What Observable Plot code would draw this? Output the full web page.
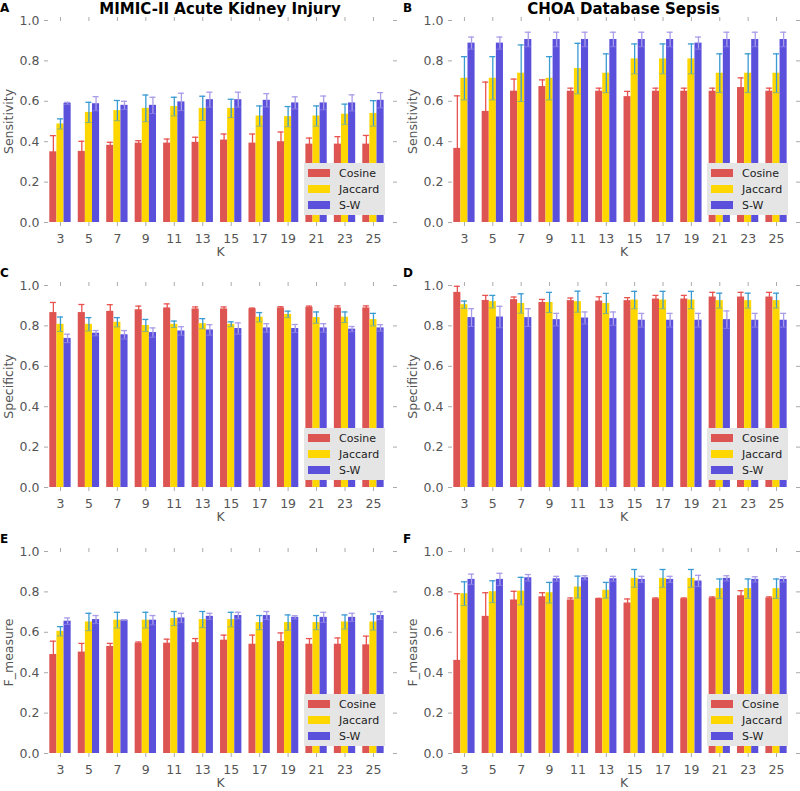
<!DOCTYPE html>
<html>
<head>
<meta charset="utf-8">
<script src="https://cdn.jsdelivr.net/npm/d3@7"></script>
<script src="https://cdn.jsdelivr.net/npm/@observablehq/plot@0.6"></script>
<style>
html, body { margin: 0; padding: 0; background: #fff; overflow: hidden; }
#root { position: relative; width: 800px; height: 791px; font-family: "DejaVu Sans", sans-serif; }
.panel { position: absolute; }
.title { position: absolute; font-weight: bold; font-size: 15px; line-height: 15px; color: #000; white-space: nowrap; transform: translateX(-50%); }
.letter { position: absolute; font-weight: bold; font-size: 12px; line-height: 12px; color: #000; }
.legend { position: absolute; background: #e5e5e5; width: 81px; height: 52px; font-size: 11px; color: #222; box-sizing: border-box; padding-top: 2px; }
.legend .item { display: flex; align-items: center; height: 16.2px; }
.legend .sw { display: inline-block; width: 22px; height: 8px; margin-left: 4px; margin-right: 9px; }
</style>
</head>
<body>
<div id="root"></div>
<script>
// ---------- data ----------
const K = [3, 5, 7, 9, 11, 13, 15, 17, 19, 21, 23, 25];
const seriesNames = ["Cosine", "Jaccard", "S-W"];
const yTicks = [0, 0.2, 0.4, 0.6, 0.8, 1.0];

// A: MIMIC-II Sensitivity
const aCos    = [0.350, 0.352, 0.382, 0.393, 0.393, 0.397, 0.408, 0.393, 0.400, 0.388, 0.388, 0.388];
const aCosErr = [0.080, 0.050, 0.015, 0.012, 0.020, 0.025, 0.030, 0.045, 0.048, 0.030, 0.037, 0.043];
const aJac    = [0.488, 0.545, 0.554, 0.565, 0.574, 0.565, 0.565, 0.527, 0.524, 0.527, 0.536, 0.540];
const aJacErr = [0.025, 0.050, 0.050, 0.066, 0.046, 0.060, 0.045, 0.050, 0.050, 0.050, 0.050, 0.063];
const aSW     = [0.590, 0.588, 0.580, 0.580, 0.597, 0.608, 0.608, 0.605, 0.592, 0.592, 0.592, 0.605];
const aSWErr  = [0.005, 0.035, 0.020, 0.040, 0.043, 0.037, 0.037, 0.033, 0.030, 0.034, 0.040, 0.038];

// B: CHOA Sensitivity
const bCos    = [0.367, 0.550, 0.650, 0.673, 0.650, 0.650, 0.623, 0.650, 0.650, 0.650, 0.668, 0.650];
const bCosErr = [0.260, 0.145, 0.060, 0.033, 0.015, 0.015, 0.026, 0.015, 0.015, 0.015, 0.048, 0.015];
const bJac    = [0.714, 0.714, 0.739, 0.714, 0.762, 0.739, 0.810, 0.810, 0.810, 0.739, 0.739, 0.739];
const bJacErr = [0.107, 0.107, 0.140, 0.107, 0.125, 0.096, 0.074, 0.074, 0.074, 0.096, 0.096, 0.096];
const bSW     = [0.888, 0.888, 0.906, 0.906, 0.906, 0.906, 0.906, 0.906, 0.888, 0.906, 0.906, 0.906];
const bSWErr  = [0.030, 0.030, 0.036, 0.036, 0.036, 0.036, 0.036, 0.036, 0.030, 0.036, 0.036, 0.036];

// C: MIMIC-II Specificity
const cCos    = [0.866, 0.866, 0.872, 0.880, 0.889, 0.884, 0.884, 0.885, 0.889, 0.892, 0.889, 0.889];
const cCosErr = [0.050, 0.040, 0.033, 0.018, 0.020, 0.010, 0.010, 0.003, 0.006, 0.006, 0.010, 0.010];
const cJac    = [0.808, 0.808, 0.818, 0.802, 0.808, 0.811, 0.808, 0.843, 0.857, 0.841, 0.843, 0.831];
const cJacErr = [0.036, 0.033, 0.023, 0.030, 0.016, 0.025, 0.012, 0.023, 0.016, 0.028, 0.026, 0.031];
const cSW     = [0.738, 0.764, 0.756, 0.767, 0.775, 0.780, 0.787, 0.790, 0.787, 0.790, 0.784, 0.790];
const cSWErr  = [0.021, 0.013, 0.021, 0.023, 0.021, 0.026, 0.028, 0.021, 0.020, 0.021, 0.013, 0.016];

// D: CHOA Specificity
const dCos    = [0.966, 0.926, 0.930, 0.916, 0.925, 0.923, 0.925, 0.933, 0.933, 0.943, 0.943, 0.943];
const dCosErr = [0.030, 0.025, 0.013, 0.015, 0.013, 0.021, 0.015, 0.018, 0.018, 0.023, 0.023, 0.023];
const dJac    = [0.905, 0.920, 0.911, 0.916, 0.920, 0.911, 0.928, 0.928, 0.928, 0.925, 0.925, 0.925];
const dJacErr = [0.018, 0.031, 0.048, 0.050, 0.052, 0.050, 0.043, 0.043, 0.043, 0.037, 0.037, 0.037];
const dSW     = [0.841, 0.844, 0.841, 0.831, 0.839, 0.836, 0.828, 0.828, 0.828, 0.831, 0.828, 0.828];
const dSWErr  = [0.044, 0.053, 0.044, 0.031, 0.030, 0.033, 0.034, 0.034, 0.034, 0.043, 0.034, 0.034];

// E: MIMIC-II F_measure
const eCos    = [0.490, 0.502, 0.530, 0.546, 0.546, 0.549, 0.561, 0.541, 0.554, 0.541, 0.541, 0.538];
const eCosErr = [0.066, 0.043, 0.015, 0.006, 0.020, 0.020, 0.025, 0.045, 0.043, 0.028, 0.031, 0.043];
const eJac    = [0.605, 0.651, 0.660, 0.660, 0.668, 0.663, 0.663, 0.648, 0.648, 0.648, 0.651, 0.651];
const eJacErr = [0.023, 0.043, 0.039, 0.039, 0.035, 0.040, 0.036, 0.035, 0.038, 0.035, 0.035, 0.040];
const eSW     = [0.655, 0.663, 0.660, 0.660, 0.671, 0.679, 0.683, 0.683, 0.674, 0.674, 0.674, 0.683];
const eSWErr  = [0.016, 0.020, 0.002, 0.023, 0.023, 0.015, 0.016, 0.020, 0.008, 0.025, 0.020, 0.020];

// F: CHOA F_measure
const fCos    = [0.461, 0.679, 0.760, 0.776, 0.760, 0.766, 0.745, 0.766, 0.766, 0.770, 0.781, 0.770];
const fCosErr = [0.330, 0.117, 0.043, 0.020, 0.010, 0.002, 0.020, 0.004, 0.004, 0.005, 0.025, 0.005];
const fJac    = [0.791, 0.801, 0.804, 0.796, 0.824, 0.808, 0.867, 0.867, 0.867, 0.816, 0.816, 0.816];
const fJacErr = [0.059, 0.054, 0.068, 0.051, 0.054, 0.039, 0.044, 0.044, 0.044, 0.048, 0.048, 0.048];
const fSW     = [0.862, 0.862, 0.870, 0.865, 0.870, 0.865, 0.862, 0.862, 0.854, 0.867, 0.862, 0.862];
const fSWErr  = [0.026, 0.030, 0.016, 0.012, 0.010, 0.012, 0.015, 0.015, 0.028, 0.013, 0.013, 0.013];

const columnTitles = ["MIMIC-II Acute Kidney Injury", "CHOA Database Sepsis"];
const rowLabels = ["Sensitivity", "Specificity", "F_measure"];

// ---------- styling / layout ----------
const barColors = ["#dc5552", "#ffd700", "#5a50dc"];
const errColors = ["#e8534f", "#3a9ad2", "#a99ce8"];
const panels = [
  {letter: "A", vals: [aCos, aJac, aSW], errs: [aCosErr, aJacErr, aSWErr], row: 0, col: 0},
  {letter: "B", vals: [bCos, bJac, bSW], errs: [bCosErr, bJacErr, bSWErr], row: 0, col: 1},
  {letter: "C", vals: [cCos, cJac, cSW], errs: [cCosErr, cJacErr, cSWErr], row: 1, col: 0},
  {letter: "D", vals: [dCos, dJac, dSW], errs: [dCosErr, dJacErr, dSWErr], row: 1, col: 1},
  {letter: "E", vals: [eCos, eJac, eSW], errs: [eCosErr, eJacErr, eSWErr], row: 2, col: 0},
  {letter: "F", vals: [fCos, fJac, fSW], errs: [fCosErr, fJacErr, fSWErr], row: 2, col: 1}
];
const rowTops = [0, 265, 531];
const colLefts = [0, 400];
const colMargins = [{left: 48, right: 8, yLabelOffset: 44.5}, {left: 52, right: 5, yLabelOffset: 44}];
const W = 400, H = 262, MT = 20, MB = 40;
const PI = 0.25, PO = 0.17, ALIGN = 0.135;

const root = document.getElementById("root");

panels.forEach((p) => {
  const m = colMargins[p.col];
  const left = colLefts[p.col], top = rowTops[p.row];
  const band = d3.scaleBand().domain(K).range([m.left, W - m.right])
    .paddingInner(PI).paddingOuter(PO).align(ALIGN);
  const bw = band.bandwidth();
  const sub = bw / 3;
  const capHalf = 3;

  const rows = K.flatMap((k, i) => seriesNames.map((s, j) => ({
    K: k, series: s, j, value: p.vals[j][i], err: p.errs[j][i]
  })));

  const marks = [];
  seriesNames.forEach((s, j) => {
    const data = rows.filter(d => d.series === s);
    marks.push(Plot.barY(data, {
      x: "K", y: "value", fill: barColors[j],
      insetLeft: j * sub, insetRight: (2 - j) * sub
    }));
  });
  seriesNames.forEach((s, j) => {
    const data = rows.filter(d => d.series === s);
    const c = sub * (j + 0.5);
    marks.push(Plot.ruleX(data, {
      x: "K", y1: d => d.value - d.err, y2: d => d.value + d.err,
      stroke: errColors[j], strokeWidth: 1.3, dx: c - bw / 2
    }));
    marks.push(Plot.tickY(data, {
      x: "K", y: d => d.value + d.err, stroke: errColors[j], strokeWidth: 1.3,
      insetLeft: c - capHalf, insetRight: bw - c - capHalf
    }));
    marks.push(Plot.tickY(data, {
      x: "K", y: d => d.value - d.err, stroke: errColors[j], strokeWidth: 1, strokeOpacity: 0.6,
      insetLeft: c - capHalf, insetRight: bw - c - capHalf
    }));
  });

  marks.push(Plot.axisY({
    ticks: yTicks, tickFormat: d3.format(".1f"), tickSize: 4, tickPadding: 5,
    stroke: "#aaa", fill: "#555", fontSize: 12.5,
    label: rowLabels[p.row], labelAnchor: "center", labelArrow: "none",
    labelOffset: m.yLabelOffset
  }));
  marks.push(Plot.axisY({
    anchor: "right", ticks: yTicks, tickSize: 4, tickFormat: () => "",
    stroke: "#aaa", label: null
  }));
  marks.push(Plot.axisX({
    anchor: "bottom", tickSize: 4, tickPadding: 8,
    stroke: "#aaa", fill: "#555", fontSize: 12.5,
    label: "K", labelAnchor: "center", labelArrow: "none", labelOffset: 33
  }));
  marks.push(Plot.axisX({
    anchor: "top", tickSize: 4, tickFormat: () => "", stroke: "#aaa", label: null
  }));

  const chart = Plot.plot({
    width: W, height: H,
    marginLeft: m.left, marginRight: m.right, marginTop: MT, marginBottom: MB,
    style: {fontFamily: "DejaVu Sans", fontSize: "12.5px", background: "transparent", color: "#555"},
    x: {type: "band", domain: K, paddingInner: PI, paddingOuter: PO, align: ALIGN, round: false},
    y: {domain: [0, 1], nice: false},
    marks
  });
  const wrap = document.createElement("div");
  wrap.className = "panel";
  wrap.style.left = left + "px";
  wrap.style.top = top + "px";
  wrap.appendChild(chart);
  root.appendChild(wrap);

  // panel letter
  const L = document.createElement("div");
  L.className = "letter";
  L.textContent = p.letter;
  L.style.left = (left + (p.col ? 3 : 0)) + "px";
  L.style.top = (top + MT - 18.4) + "px";
  root.appendChild(L);

  // column title
  if (p.row === 0) {
    const T = document.createElement("div");
    T.className = "title";
    T.textContent = columnTitles[p.col];
    T.style.left = (left + (m.left + W - m.right) / 2) + "px";
    T.style.top = "2px";
    root.appendChild(T);
  }

  // legend
  const plotRight = left + W - m.right;
  const plotBottom = top + H - MB;
  const lg = document.createElement("div");
  lg.className = "legend";
  lg.style.left = (plotRight - 7 - 81) + "px";
  lg.style.top = (plotBottom - 7 - 52) + "px";
  seriesNames.forEach((s, j) => {
    const it = document.createElement("div");
    it.className = "item";
    const sw = document.createElement("span");
    sw.className = "sw";
    sw.style.background = barColors[j];
    it.appendChild(sw);
    it.appendChild(document.createTextNode(s));
    lg.appendChild(it);
  });
  root.appendChild(lg);
});
</script>
</body>
</html>
